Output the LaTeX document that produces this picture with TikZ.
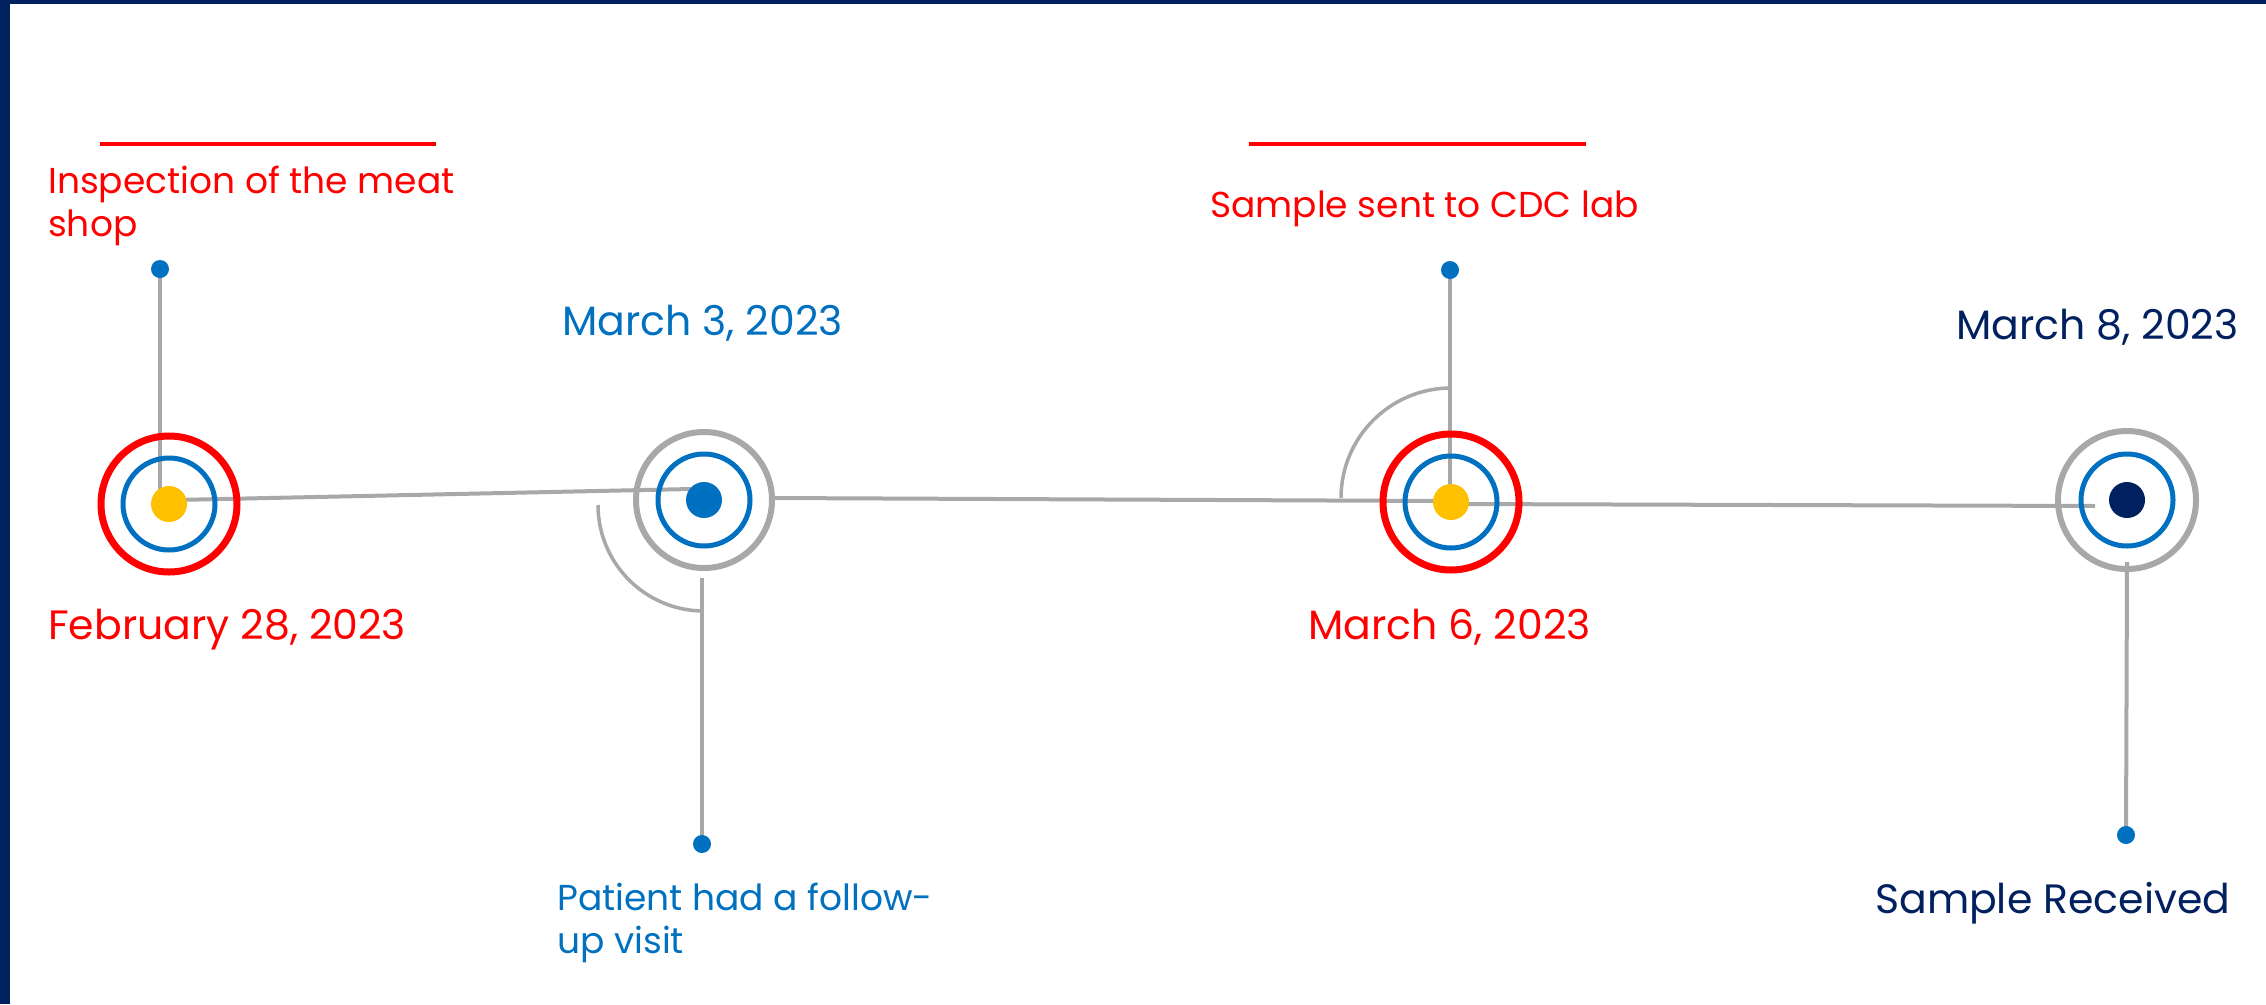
\documentclass[tikz,border=0pt]{standalone}
\usepackage{fontspec}
\setmainfont{Poppins}
\usetikzlibrary{positioning, calc}
\definecolor{frameNavy}{RGB}{0, 32, 96}
\definecolor{eventBlue}{RGB}{0, 112, 192}
\definecolor{eventRed}{RGB}{255, 0, 0}
\definecolor{eventYellow}{RGB}{255, 192, 0}
\definecolor{lineGray}{RGB}{168, 168, 168}

\tikzset{
    spoke/.style={lineGray, line width=4pt},
    outerRing/.style={line width=7pt},
    innerRing/.style={eventBlue, line width=5pt},
    dateLabel/.style={anchor=base west, inner sep=0pt, font=\fontsize{41}{49}\selectfont},
    noteLabel/.style={anchor=base west, inner sep=0pt, align=left, font=\fontsize{36}{43}\selectfont}
}

\begin{document}
\begin{tikzpicture}[x=1pt, y=-1pt]
    % 枠と背景
    \fill[frameNavy] (0,0) rectangle (2266,1004);
    \fill[white] (10,4) rectangle (2266,1004);
    \useasboundingbox (0,0) rectangle (2266,1004);

    % イベントの中心
    \coordinate (E1) at (169,504);
    \coordinate (E2) at (704,500);
    \coordinate (E3) at (1451,502);
    \coordinate (E4) at (2127,500);

    % ピンの先端
    \coordinate (P1) at (160,269);
    \coordinate (P2) at (702,844);
    \coordinate (P3) at (1450,270);
    \coordinate (P4) at (2126,835);

    % 時間軸
    \draw[spoke] ($(E1)+(6,-4)$) -- ($(E2)+(-13,-11)$);
    \draw[spoke] ($(E2)+(69,-2)$) -- ($(E3)+(-11,-1)$);
    \draw[spoke] ($(E3)+(4,2)$) -- ($(E4)+(-32,6)$);

    % ピン
    \draw[spoke] (P1) -- (160,518);
    \draw[spoke] (P2) -- ($(E2)+(-2,78)$);
    \draw[spoke] (P3) -- ($(E3)+(-1,-10)$);
    \draw[spoke] (P4) -- ($(E4)+(0,62)$);

    % 円弧
    \draw[spoke, line width=3.5pt] ($(E2)+(-106,5)$) arc[start angle=180, end angle=90, radius=106];
    \draw[spoke, line width=3.5pt] ($(E3)+(-110,-4)$) arc[start angle=180, end angle=270, radius=110];

    % 同心円
    \draw[outerRing, eventRed] (E1) circle (68);
    \draw[outerRing, lineGray, line width=6pt] (E2) circle (68);
    \draw[outerRing, eventRed] (E3) circle (68);
    \draw[outerRing, lineGray, line width=6pt] (E4) circle (69);
    \foreach \e in {E1, E2, E3, E4}
        \draw[innerRing] (\e) circle (46);
    \fill[eventYellow] (E1) circle (18);
    \fill[eventBlue] (E2) circle (18);
    \fill[eventYellow] (E3) circle (18);
    \fill[frameNavy] (E4) circle (18);
    \foreach \p in {P1, P2, P3, P4}
        \fill[eventBlue] (\p) circle (9);

    % 赤い下線
    \draw[eventRed, line width=4pt] (100,144) -- (436,144);
    \draw[eventRed, line width=4pt] (1249,144) -- (1586,144);

    % ラベル (複数行は最終行の基線で置く)
    \node[noteLabel, eventRed] (inspect) at (48,236) {Inspection of the meat\\shop};
    \node[dateLabel, eventRed] (feb28) at (48,639) {February 28, 2023};
    \node[dateLabel, eventBlue] (mar3) at (562,335) {March 3, 2023};
    \node[noteLabel, eventBlue] (visit) at (557,953) {Patient had a follow-\\up visit};
    \node[noteLabel, eventRed] (sent) at (1210,217) {Sample sent to CDC lab};
    \node[dateLabel, eventRed] (mar6) at (1308,639) {March 6, 2023};
    \node[dateLabel, frameNavy] (mar8) at (1956,339) {March 8, 2023};
    \node[dateLabel, frameNavy] (received) at (1875,913) {Sample Received};
\end{tikzpicture}
\end{document}
